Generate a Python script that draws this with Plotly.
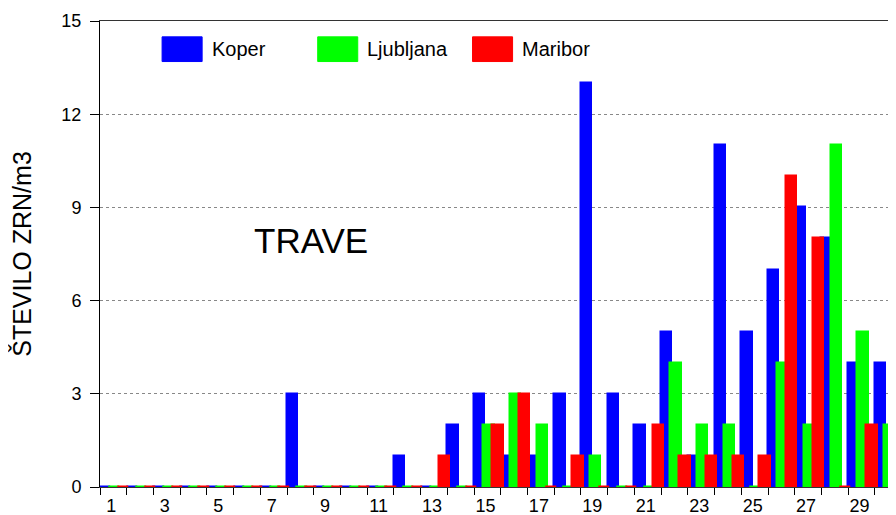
import plotly.graph_objects as go

days = list(range(1, 31))
koper = [0, 0, 0, 0, 0, 0, 0, 3, 0, 0, 0, 1, 0, 2, 3, 1, 1, 3, 13, 3, 2, 5, 1, 11, 5, 7, 9, 8, 4, 4]
ljubljana = [0, 0, 0, 0, 0, 0, 0, 0, 0, 0, 0, 0, 0, 0, 2, 3, 2, 0, 1, 0, 0, 4, 2, 2, 0, 4, 2, 11, 5, 2]
maribor = [0, 0, 0, 0, 0, 0, 0, 0, 0, 0, 0, 0, 1, 0, 2, 3, 0, 1, 0, 0, 2, 1, 1, 1, 1, 10, 8, 0, 2, 2]
x_labels = [str(d) for d in range(1, 30, 2)]
y_ticks = [0, 3, 6, 9, 12, 15]

series = [("Koper", koper, "#0000FF", -0.5),
          ("Ljubljana", ljubljana, "#00FF00", -0.156),
          ("Maribor", maribor, "#FF0000", 0.18)]

FONT = "Liberation Sans, Arial, sans-serif"
fig = go.Figure()
for name, vals, col, off in series:
    fig.add_trace(go.Bar(
        x=days, y=vals, name=name, offset=off, width=0.423,
        marker=dict(color=col, line=dict(color=col, width=1.5)),
        showlegend=False,
    ))

boundaries = [d + 0.5 for d in range(0, 31)]

# legend drawn as swatches + real text labels (paper coordinates)
legend_x = [0.078, 0.2735, 0.468]
shapes = []
annotations = []
for (name, vals, col, off), lx in zip(series, legend_x):
    shapes.append(dict(type="rect", xref="paper", yref="paper",
                       x0=lx, x1=lx + 0.0503, y0=0.913, y1=0.966,
                       fillcolor=col, line=dict(color=col, width=1)))
    annotations.append(dict(text=name, xref="paper", yref="paper", x=lx + 0.06,
                            y=0.9395, xanchor="left", yanchor="middle",
                            showarrow=False, font=dict(size=20, family=FONT)))
annotations.append(dict(text="TRAVE", xref="paper", yref="paper", x=0.265, y=0.53,
                        xanchor="center", yanchor="middle",
                        showarrow=False, font=dict(size=35, family=FONT)))

fig.update_layout(
    width=888, height=507,
    margin=dict(l=92, r=0, t=13, b=28),
    plot_bgcolor="white", paper_bgcolor="white",
    barmode="overlay", bargap=0,
    font=dict(family=FONT, color="black", size=18),
    showlegend=False,
    xaxis=dict(range=[0.5, 30.29], tickmode="array", tickvals=list(range(1, 30, 2)),
               ticktext=x_labels, ticks="", showgrid=False, zeroline=False,
               showline=True, mirror=True, linecolor="#333333", linewidth=1,
               layer="below traces", tickfont=dict(size=18), automargin=False,
               ticklabelstandoff=2, ticklabelshift=-2,
               minor=dict(tickmode="array", tickvals=boundaries, ticks="outside",
                          ticklen=7, tickcolor="black", tickwidth=1, showgrid=False)),
    xaxis2=dict(overlaying="x", matches="x", anchor="y", tickmode="array",
                tickvals=boundaries, ticks="inside", ticklen=7, tickcolor="black",
                showticklabels=False, showgrid=False, zeroline=False, showline=False,
                layer="below traces", automargin=False),
    yaxis=dict(range=[0, 15], tickmode="array", tickvals=y_ticks, ticks="outside",
               ticklen=9, tickcolor="black", showline=True, linecolor="black",
               linewidth=1, zeroline=False, showgrid=True, gridcolor="#888888",
               griddash="dot", gridwidth=1, layer="below traces",
               tickfont=dict(size=18), automargin=False, ticklabelstandoff=5,
               title=dict(text="ŠTEVILO ZRN/m3", font=dict(size=25), standoff=24)),
    shapes=shapes,
    annotations=annotations,
)

fig.write_html("out.html")
